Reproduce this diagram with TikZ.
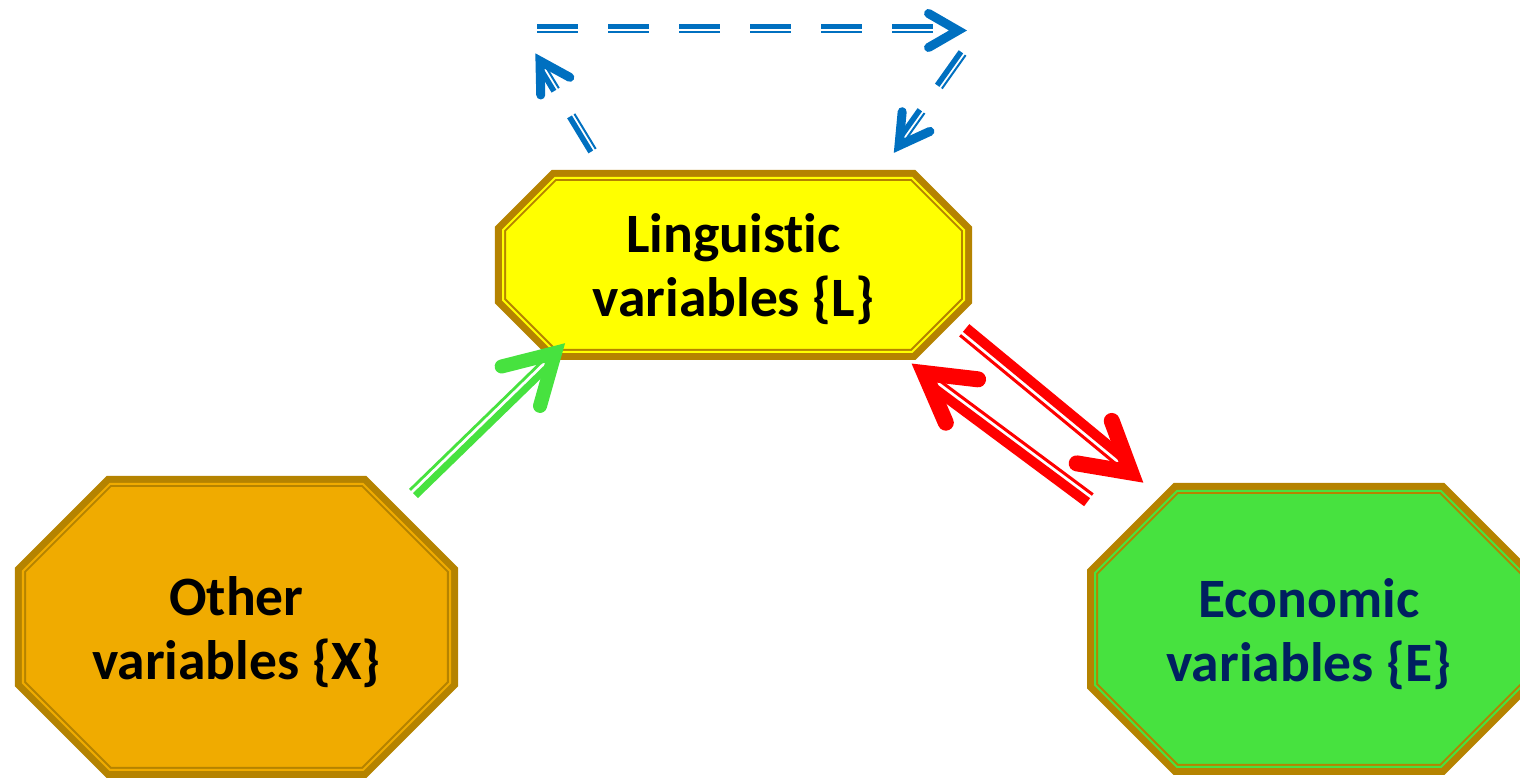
\documentclass[tikz,border=0pt]{standalone}
\usepackage{fontspec}
\setmainfont{Carlito}[Ligatures=CommonOff]
\usetikzlibrary{calc}

\definecolor{rim}{RGB}{181,131,0}
\definecolor{lingfill}{RGB}{255,255,0}
\definecolor{otherfill}{RGB}{240,171,0}
\definecolor{econfill}{RGB}{71,226,63}
\definecolor{econtext}{RGB}{0,32,96}
\definecolor{loopblue}{RGB}{0,112,192}
\definecolor{arrred}{RGB}{255,0,0}
\definecolor{arrgreen}{RGB}{71,226,63}

% octagon with a thick-thin rim: centre, half width, half height, chamfer, fill
\newcommand{\octagon}[5]{%
  \filldraw[rimline, fill=#5, double=#5]
    ($(#1)+(-#2+#4,-#3)$) -- ($(#1)+(#2-#4,-#3)$) -- ($(#1)+(#2,-#3+#4)$) -- ($(#1)+(#2,#3-#4)$)
    -- ($(#1)+(#2-#4,#3)$) -- ($(#1)+(-#2+#4,#3)$) -- ($(#1)+(-#2,#3-#4)$) -- ($(#1)+(-#2,-#3+#4)$) -- cycle;
}
% thick + thin parallel shaft: look, from, to, side of thick line (90/270),
% thick width, thick offset, thin width, thin offset
\newcommand{\twin}[8]{%
  \draw[#1, line width=#5] ($(#2)!#6!#4:(#3)$) -- ($(#3)!#6!-#4:(#2)$);
  \draw[#1, line width=#7] ($(#2)!#8!-#4:(#3)$) -- ($(#3)!#8!#4:(#2)$);
}
% open arrow head: look, tip, point behind, arm length, line width
\newcommand{\chev}[5]{%
  \draw[#1, line width=#5, line cap=round, line join=miter]
    ($(#2)!#4!30:(#3)$) -- (#2) -- ($(#2)!#4!-30:(#3)$);
}

\begin{document}
\begin{tikzpicture}[x=0.01cm, y=-0.01cm,
    rimline/.style={preaction={draw=rim, line width=0.16cm, line join=miter},
      draw=rim, line width=0.02cm, double distance=0.02cm, line join=miter},
    vartext/.style={align=center, inner sep=0pt,
      font=\bfseries\fontsize{15.8}{18.3}\selectfont}]
  \useasboundingbox (0,0) rectangle (1520,780);

  % the three groups of variables
  \coordinate (Lc) at (733.5,265);
  \coordinate (Xc) at (236.5,627);
  \coordinate (Ec) at (1309,629);
  \octagon{Lc}{230.5}{87}{52}{lingfill}
  \octagon{Xc}{213.5}{143}{87}{otherfill}
  \octagon{Ec}{214}{138}{82}{econfill}
  \node[vartext] (L) at ($(Lc)+(0,4)$) {Linguistic\\variables \{L\}};
  \node[vartext] (X) at ($(Xc)+(0,5)$) {Other\\variables \{X\}};
  \node[vartext, text=econtext] (E) at ($(Ec)+(0,5)$) {Economic\\variables \{E\}};

  % arrow ends
  \coordinate (gs) at (412,492);
  \coordinate (gv) at (555,353);
  \coordinate (rs1) at (962,333);
  \coordinate (rv1) at (1131,472.5);
  \coordinate (rs2) at (1091,497);
  \coordinate (rv2) at (924.4,373.1);
  \coordinate (bs1) at (594,150);
  \coordinate (bv1) at (540,61);
  \coordinate (bs2) at (537,30.5);
  \coordinate (bv2) at (958,30.5);
  \coordinate (bs3) at (964,54);
  \coordinate (bv3) at (899,145.6);

  % X -> L
  \twin{arrgreen, shorten >=0.08cm}{gs}{gv}{270}{0.07cm}{0.05cm}{0.028cm}{0.029cm}
  \chev{arrgreen}{gv}{gs}{0.55cm}{0.14cm}

  % L <-> E
  \twin{arrred, shorten >=0.08cm}{rs1}{rv1}{90}{0.10cm}{0.065cm}{0.03cm}{0.03cm}
  \chev{arrred}{rv1}{rs1}{0.55cm}{0.16cm}
  \twin{arrred, shorten >=0.08cm}{rs2}{rv2}{90}{0.10cm}{0.065cm}{0.03cm}{0.03cm}
  \chev{arrred}{rv2}{rs2}{0.54cm}{0.16cm}

  % L -> L loop, dashed
  \twin{loopblue, dash pattern=on 0.41cm off 0.30cm, shorten >=0.06cm}{bs1}{bv1}{90}{0.055cm}{0.0375cm}{0.02cm}{0.02cm}
  \chev{loopblue}{bv1}{bs1}{0.34cm}{0.09cm}
  \twin{loopblue, dash pattern=on 0.41cm off 0.30cm, shorten >=0.06cm}{bs2}{bv2}{90}{0.055cm}{0.0375cm}{0.02cm}{0.02cm}
  \chev{loopblue}{bv2}{bs2}{0.34cm}{0.09cm}
  \twin{loopblue, dash pattern=on 0.41cm off 0.30cm, shorten >=0.06cm}{bs3}{bv3}{270}{0.055cm}{0.0375cm}{0.02cm}{0.02cm}
  \chev{loopblue}{bv3}{bs3}{0.34cm}{0.09cm}
\end{tikzpicture}
\end{document}
